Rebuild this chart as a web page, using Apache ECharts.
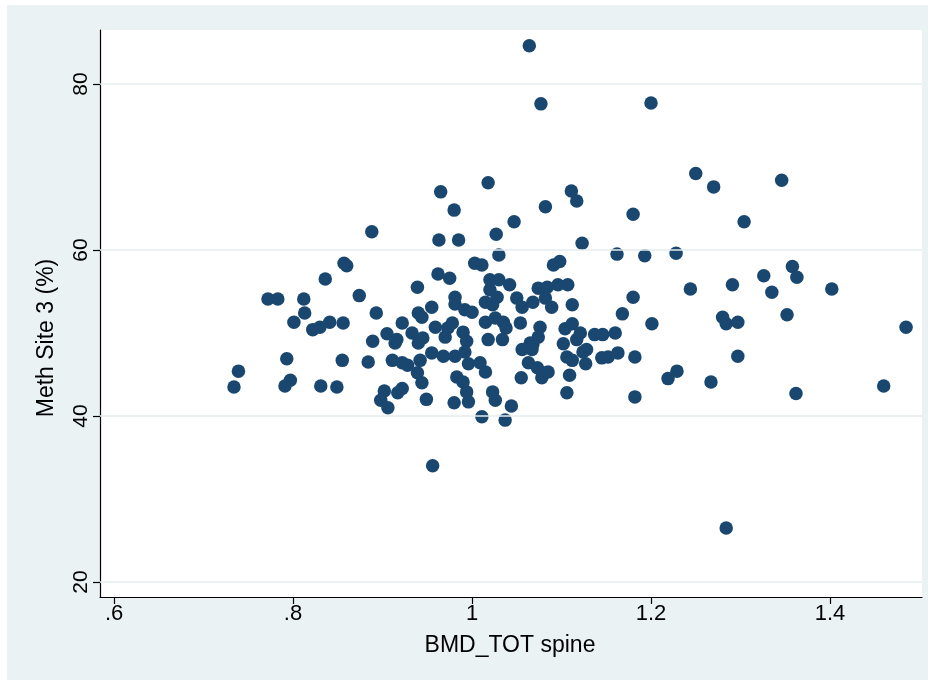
<!DOCTYPE html>
<html>
<head>
<meta charset="utf-8">
<script src="https://cdn.jsdelivr.net/npm/echarts@6/dist/echarts.min.js"></script>
<style>
  html, body { margin: 0; padding: 0; background: #ffffff; }
  #region { position: absolute; left: 7px; top: 5px; width: 921px; height: 675px; background: #eaf2f3; }
  #chart { position: absolute; left: 0; top: 0; width: 934px; height: 685px; }
</style>
</head>
<body>
<div id="region"></div>
<div id="chart"></div>
<script>
// Total spine BMD (g/cm2) against methylation at CpG site 3 (%)
const bmd = [
  1.064, 1.077, 1.200, 1.018, 1.250, 1.270, 1.346, 0.965, 1.111, 1.117,
  0.980, 1.082, 1.047, 1.180, 1.304, 0.888, 1.027, 0.963, 0.985, 1.123,
  1.162, 1.193, 1.228, 1.030, 1.091, 1.098, 1.003, 1.011, 0.857, 0.860,
  0.962, 0.975, 0.939, 0.836, 1.020, 1.030, 1.042, 1.074, 1.084, 1.096,
  1.107, 1.020, 1.326, 1.358, 1.363, 1.244, 1.291, 1.402, 1.335,
  0.772, 0.783, 0.812, 0.874, 1.180, 0.981, 0.981, 1.015, 1.023, 1.028,
  1.050, 1.056, 1.068, 1.082, 1.089, 1.112, 0.813, 0.893, 0.940, 0.944,
  0.955, 0.992, 1.000, 1.168, 1.280, 1.284, 1.297, 1.352, 1.485, 1.201,
  0.801, 0.822, 0.830, 0.841, 0.856, 0.922, 0.959, 0.978, 0.973, 0.970,
  0.990, 1.015, 1.026, 1.035, 1.038, 1.054, 1.076, 1.074, 1.104, 1.112,
  1.121, 1.137, 1.146, 1.160, 0.889, 0.905, 0.916, 0.933, 0.945, 0.994,
  1.018, 1.034, 1.065,
  0.914, 0.940, 0.911, 0.922, 0.928, 0.942, 0.955, 0.968, 0.981, 0.992,
  0.855, 0.884, 0.793, 1.056, 1.067, 1.068, 1.102, 1.117, 1.106, 1.112,
  1.124, 1.128, 1.127, 1.145, 1.152, 1.163, 1.182, 1.297, 0.996, 1.009,
  1.063,
  1.015, 0.939, 0.944, 0.983, 0.990, 0.994, 0.996, 0.980, 0.949, 0.902,
  0.922, 0.917, 0.898, 0.906, 1.023, 1.026, 1.011, 1.037, 1.073, 1.079,
  1.085, 1.078, 1.055, 1.109, 1.106, 1.182, 1.044, 1.229, 1.219, 1.267,
  1.362, 1.460, 0.739, 0.734, 0.797, 0.791, 0.831, 0.849, 0.956, 1.284
];
const meth = [
  84.6, 77.6, 77.7, 68.1, 69.2, 67.6, 68.4, 67.0, 67.1, 65.9,
  64.8, 65.2, 63.4, 64.3, 63.4, 62.2, 61.9, 61.2, 61.2, 60.8,
  59.5, 59.3, 59.6, 59.4, 58.2, 58.6, 58.4, 58.2, 58.4, 58.1,
  57.1, 56.6, 55.5, 56.5, 56.4, 56.4, 55.8, 55.4, 55.5, 55.8,
  55.8, 55.2, 56.9, 58.0, 56.7, 55.3, 55.8, 55.3, 54.9,
  54.1, 54.1, 54.1, 54.5, 54.3, 54.3, 53.5, 53.7, 53.4, 54.3,
  54.2, 53.1, 53.7, 54.2, 53.1, 53.4, 52.4, 52.4, 52.4, 51.9,
  53.1, 52.8, 52.5, 52.3, 51.9, 51.1, 51.3, 52.2, 50.7, 51.1,
  51.3, 50.4, 50.7, 51.3, 51.2, 51.2, 50.7, 51.2, 50.6, 49.5,
  50.1, 51.3, 51.8, 51.3, 50.6, 51.2, 50.7, 49.5, 50.5, 51.1,
  50.0, 49.8, 49.8, 50.0, 49.0, 49.9, 49.2, 50.0, 49.4, 49.0,
  49.2, 49.2, 48.8,
  48.8, 48.8, 46.7, 46.4, 46.1, 46.7, 47.6, 47.2, 47.2, 47.7,
  46.7, 46.5, 46.9, 48.0, 48.0, 48.6, 48.7, 49.2, 47.1, 46.7,
  47.7, 48.0, 46.3, 47.0, 47.1, 47.6, 47.1, 47.2, 46.3, 46.4,
  46.4,
  45.3, 45.2, 44.0, 44.7, 44.1, 42.9, 41.7, 41.6, 42.0, 43.0,
  43.3, 42.8, 41.9, 41.0, 42.9, 41.9, 39.9, 39.5, 45.8, 45.2,
  45.3, 44.6, 44.6, 44.9, 42.8, 42.3, 41.2, 45.4, 44.5, 44.1,
  42.7, 43.6, 45.4, 43.5, 44.3, 43.6, 43.6, 43.5, 34.0, 26.5
];

const xTicks = [0.6, 0.8, 1, 1.2, 1.4];
const yTicks = [20, 40, 60, 80];
const xTitle = 'BMD_TOT spine';
const yTitle = 'Meth Site 3 (%)';

const FONT = '"Liberation Sans", Arial, Helvetica, sans-serif';
const NAVY = '#1a476f';

const points = bmd.map((v, i) => [v, meth[i]]);

const chart = echarts.init(document.getElementById('chart'), null, { renderer: 'canvas' });

chart.setOption({
  backgroundColor: 'transparent',
  animation: false,
  grid: {
    left: 100, right: 12, top: 30, bottom: 88,
    show: true, backgroundColor: '#ffffff', borderWidth: 0
  },
  xAxis: {
    type: 'value',
    min: 0.5843, max: 1.5028,
    axisLine: { show: true, onZero: false, lineStyle: { color: '#000', width: 1.2 } },
    axisTick: { show: true, length: 7, customValues: xTicks, lineStyle: { color: '#000', width: 1.2 } },
    axisLabel: {
      customValues: xTicks, margin: 6, color: '#000', fontSize: 22, fontFamily: FONT,
      formatter: v => String(v).replace(/^0\./, '.')
    },
    splitLine: { show: false }
  },
  yAxis: {
    type: 'value',
    min: 18.19, max: 86.5,
    axisLine: { show: true, onZero: false, lineStyle: { color: '#000', width: 1.2 } },
    axisTick: { show: true, length: 7, customValues: yTicks, lineStyle: { color: '#000', width: 1.2 } },
    axisLabel: {
      customValues: yTicks, rotate: 90, margin: 8, color: '#000', fontSize: 21, fontFamily: FONT
    },
    splitLine: { show: false }
  },
  graphic: [
    {
      type: 'text', x: 510, y: 646, silent: true,
      style: { text: xTitle, fontSize: 23, fontFamily: FONT, fill: '#000', align: 'center', verticalAlign: 'middle' }
    },
    {
      type: 'text', x: 47, y: 338, rotation: Math.PI / 2, silent: true,
      style: { text: yTitle, fontSize: 23, fontFamily: FONT, fill: '#000', align: 'center', verticalAlign: 'middle' }
    }
  ],
  series: [
    {
      // horizontal grid lines at the labelled y ticks
      type: 'scatter',
      data: [],
      z: 1,
      silent: true,
      markLine: {
        silent: true,
        symbol: 'none',
        label: { show: false },
        lineStyle: { color: '#e4edef', width: 1.5, type: 'solid' },
        data: yTicks.map(t => ({ yAxis: t }))
      }
    },
    {
      type: 'scatter',
      data: points,
      z: 3,
      symbol: 'circle',
      symbolSize: 13.5,
      itemStyle: { color: NAVY, opacity: 1 }
    }
  ]
});
</script>
</body>
</html>
